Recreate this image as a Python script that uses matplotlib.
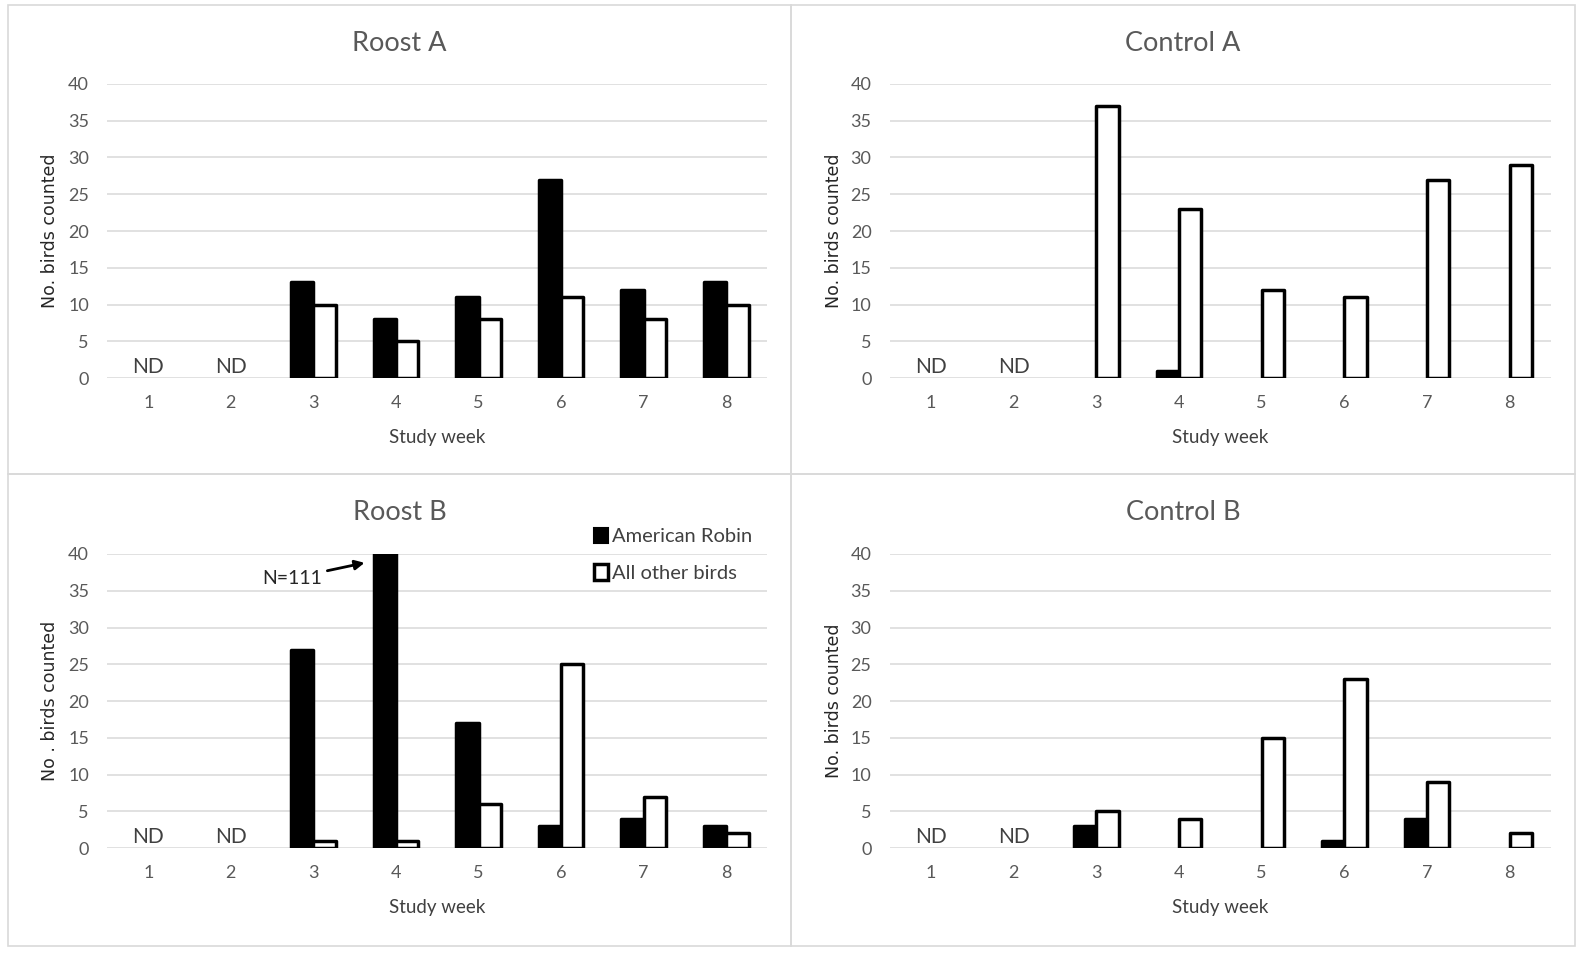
import numpy as np
import matplotlib
matplotlib.use("Agg")
import matplotlib.pyplot as plt
from matplotlib.patches import Rectangle, Patch

plt.rcParams['font.family'] = ['Lato', 'DejaVu Sans']

# ---------------- data ----------------
weeks = [1, 2, 3, 4, 5, 6, 7, 8]
week_labels = ["1", "2", "3", "4", "5", "6", "7", "8"]
yticks = [0, 5, 10, 15, 20, 25, 30, 35, 40]
nd_weeks = [1, 2]

titles = ["Roost A", "Control A", "Roost B", "Control B"]
ylabels = ["No. birds counted", "No. birds counted", "No . birds counted", "No. birds counted"]

roostA_robin = [np.nan, np.nan, 13, 8, 11, 27, 12, 13]
roostA_other = [np.nan, np.nan, 10, 5, 8, 11, 8, 10]
controlA_robin = [np.nan, np.nan, 0, 1, 0, 0, 0, 0]
controlA_other = [np.nan, np.nan, 37, 23, 12, 11, 27, 29]
roostB_robin = [np.nan, np.nan, 27, 111, 17, 3, 4, 3]
roostB_other = [np.nan, np.nan, 1, 1, 6, 25, 7, 2]
controlB_robin = [np.nan, np.nan, 3, 0, 0, 1, 4, 0]
controlB_other = [np.nan, np.nan, 5, 4, 15, 23, 9, 2]

robin_series = [roostA_robin, controlA_robin, roostB_robin, controlB_robin]
other_series = [roostA_other, controlA_other, roostB_other, controlB_other]

legend_labels = ["American Robin", "All other birds"]
annot_text = "N=111"

# ---------------- layout ----------------
W, H = 1583, 955
fig = plt.figure(figsize=(W / 100, H / 100), dpi=100)
fig.patch.set_facecolor("white")

def fx(x):
    return x / W

def fy(y):
    return 1 - y / H

# panel boxes (pixel coords): x0, y0, x1, y1
panels = [(8, 5, 791, 474), (791, 5, 1575, 474), (8, 474, 791, 946), (791, 474, 1575, 946)]
# axes (pixel coords): left, top, right, bottom
axes_px = [(107, 84, 767.5, 378), (889.6, 84, 1551, 378),
           (107, 554, 767.5, 848), (889.6, 554, 1551, 848)]
ylabel_x = [50, 834, 50, 834]

for (x0, y0, x1, y1) in panels:
    fig.add_artist(Rectangle((fx(x0), fy(y1)), fx(x1 - x0), (y1 - y0) / H,
                             transform=fig.transFigure, fill=False,
                             edgecolor="#d9d9d9", lw=1.2, zorder=0))

tick_color = "#595959"
w = 0.27
edge_lw = 2.5

for i in range(4):
    l, t, r, b = axes_px[i]
    ax = fig.add_axes([fx(l), fy(b), fx(r - l), (b - t) / H])
    ax.set_xlim(0.5, 8.5)
    ax.set_ylim(0, 40)
    for s in ax.spines.values():
        s.set_visible(False)
    ax.set_yticks(yticks)
    ax.set_xticks(weeks)
    ax.set_xticklabels(week_labels)
    ax.tick_params(length=0, labelsize=13, labelcolor=tick_color)
    ax.tick_params(axis='x', pad=12)
    ax.tick_params(axis='y', pad=13)
    ax.yaxis.grid(True, color="#d9d9d9", lw=1.1)
    ax.set_axisbelow(True)

    x = np.array(weeks, dtype=float)
    rob = np.array(robin_series[i], dtype=float)
    oth = np.array(other_series[i], dtype=float)
    mr = np.nan_to_num(rob) > 0
    mo = np.nan_to_num(oth) > 0
    ax.bar(x[mr] - w / 2, rob[mr], w, color="black", edgecolor="black",
           lw=edge_lw, joinstyle="round", zorder=3)
    ax.bar(x[mo] + w / 2, oth[mo], w, color="white", edgecolor="black",
           lw=edge_lw, joinstyle="round", zorder=3)

    for wk in nd_weeks:
        ax.text(wk, 1.45, "ND", ha="center", va="center", fontsize=15, color="#404040")

    ax.set_xlabel("Study week", fontsize=13.5, color="#404040")
    ax.xaxis.set_label_coords(0.5, -0.172)

    # title centered on panel
    x0, y0, x1, y1 = panels[i]
    fig.text(fx((x0 + x1) / 2), fy(y0 + 38), titles[i], ha="center", va="center",
             fontsize=19.5, color=tick_color)
    fig.text(fx(ylabel_x[i]), fy((t + b) / 2), ylabels[i], rotation=90,
             ha="center", va="center", fontsize=12.5, color="#262626",
             family="DejaVu Sans")

    if i == 2:
        handles = [Patch(facecolor="black", edgecolor="black", lw=1.5),
                   Patch(facecolor="white", edgecolor="black", lw=2.5)]
        ax.legend(handles, legend_labels, loc="upper left",
                  bbox_to_anchor=(0.737, 1.09), frameon=False, fontsize=14.5,
                  handlelength=0.7, handleheight=0.8, handletextpad=0.2,
                  labelspacing=0.95, borderpad=0, borderaxespad=0,
                  labelcolor="#404040")
        ax.annotate(annot_text, xy=(3.62, 38.8), xytext=(2.74, 36.7),
                    ha="center", va="center", fontsize=14, color="#262626",
                    arrowprops=dict(arrowstyle="-|>", color="black", lw=2,
                                    mutation_scale=14, shrinkA=2, shrinkB=0),
                    annotation_clip=False, zorder=5)

fig.savefig("out.png", dpi=100)
